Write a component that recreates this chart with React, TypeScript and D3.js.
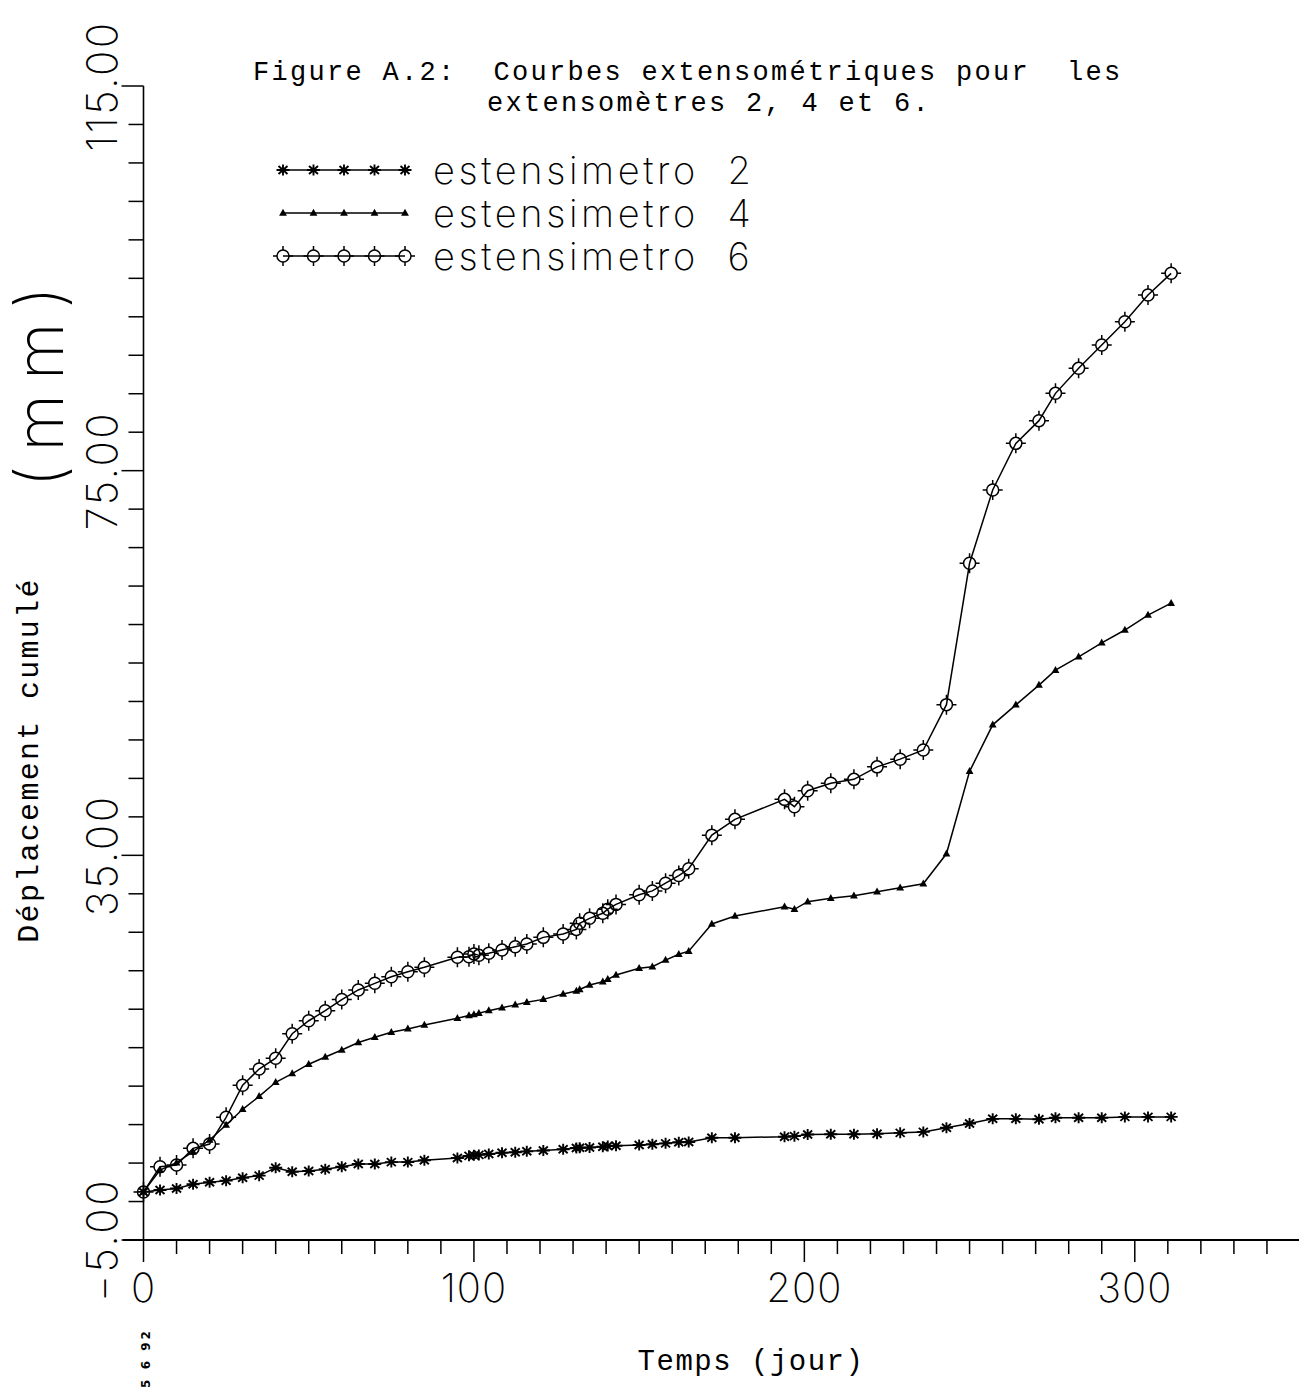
import React from "react";
import * as d3 from "d3";

// ---- data ----
const days = [0, 5, 10, 15, 20, 25, 30, 35, 40, 45, 50, 55, 60, 65, 70, 75, 80, 85, 95, 98.5,
  100, 101.5, 104.5, 108.5, 112.5, 116, 121, 127, 131, 132, 135, 139, 140.5, 143, 150, 154, 158, 162, 165, 172,
  179, 194, 197, 201, 208, 215, 222, 229, 236, 243, 250, 257, 264, 271, 276, 283, 290, 297, 304, 311];

const ext2 = [0, 0.2, 0.35, 0.8, 1.0, 1.17, 1.48, 1.69, 2.52, 2.1, 2.17, 2.35, 2.62, 2.9, 2.9, 3.1, 3.1, 3.3, 3.53, 3.75,
  3.8, 3.85, 3.94, 4.08, 4.12, 4.22, 4.3, 4.43, 4.57, 4.6, 4.62, 4.7, 4.77, 4.8, 4.88, 4.95, 5.05, 5.16, 5.19, 5.64,
  5.64, 5.74, 5.8, 5.97, 5.99, 6.0, 6.05, 6.14, 6.24, 6.68, 7.12, 7.6, 7.6, 7.55, 7.72, 7.72, 7.72, 7.8, 7.8, 7.8];

const ext4 = [0, 2.28, 3.04, 4.18, 5.4, 6.96, 8.59, 9.93, 11.4, 12.3, 13.28, 14.03, 14.76, 15.54, 16.08, 16.6, 16.95, 17.35, 18.05, 18.35,
  18.45, 18.57, 18.85, 19.15, 19.45, 19.72, 20.02, 20.58, 20.89, 21.05, 21.52, 21.86, 22.1, 22.56, 23.25, 23.42, 24.1, 24.72, 25.03, 27.86,
  28.69, 29.66, 29.39, 30.18, 30.53, 30.8, 31.21, 31.62, 32.05, 35.16, 43.73, 48.57, 50.65, 52.7, 54.25, 55.64, 57.1, 58.43, 59.98, 61.22];

const ext6 = [0, 2.62, 2.8, 4.53, 4.98, 7.76, 11.1, 12.78, 13.9, 16.45, 17.8, 18.84, 20.0, 21.0, 21.69, 22.38, 22.9, 23.36, 24.4, 24.46,
  24.75, 24.6, 24.81, 25.15, 25.5, 25.78, 26.47, 26.82, 27.3, 27.93, 28.45, 28.97, 29.4, 29.9, 30.9, 31.3, 32.1, 32.9, 33.6, 37.1,
  38.74, 40.82, 40.06, 41.72, 42.49, 42.9, 44.2, 45.0, 45.95, 50.67, 65.37, 72.99, 77.84, 80.2, 83.04, 85.64, 88.06, 90.49, 93.26, 95.52];

const seriesNames = ["estensimetro  2", "estensimetro  4", "estensimetro  6"];
const xTickLabels = ["0", "100", "200", "300"];
const yTickLabels = ["\u22125.00", "35.00", "75.00", "115.00"];
const yMajorValues = [-5, 35, 75, 115];
const xMajorValues = [0, 100, 200, 300];

const titleLine1 = "Figure A.2:  Courbes extensométriques pour  les";
const titleLine2 = "extensomètres 2, 4 et 6.";
const xAxisTitle = "Temps (jour)";
const yAxisTitle = "Déplacement cumulé";
const yUnit = "(mm)";
const stamp = "5 6 92";

const W = 1299;
const H = 1394;
const thin = "Inter, 'Open Sans', 'DejaVu Sans', sans-serif";
const mono = "'Liberation Mono', 'DejaVu Sans Mono', monospace";

function Asterisk({ cx, cy }: { cx: number; cy: number }) {
  return (
    <path
      d={`M${cx - 6.5},${cy}h13M${cx},${cy - 5.5}v11M${cx - 4.5},${cy - 4}l9,8M${cx - 4.5},${cy + 4}l9,-8`}
      stroke="#000"
      strokeWidth={1.9}
      fill="none"
    />
  );
}
function Tri({ cx, cy }: { cx: number; cy: number }) {
  return <path d={`M${cx},${cy - 4.3}L${cx + 3.9},${cy + 2.7}L${cx - 3.9},${cy + 2.7}Z`} fill="#000" />;
}
function Circ({ cx, cy }: { cx: number; cy: number }) {
  return (
    <g stroke="#000" strokeWidth={1.5} fill="none">
      <circle cx={cx} cy={cy} r={6} />
      <path d={`M${cx},${cy - 10}v4M${cx},${cy + 6}v4M${cx - 10},${cy}h4M${cx + 6},${cy}h4`} />
    </g>
  );
}
const markers = [Asterisk, Tri, Circ];

export default function App() {
  const x = d3.scaleLinear().domain([0, 350]).range([143.5, 1300]);
  const y = d3.scaleLinear().domain([-5, 115]).range([1240, 86]);
  const series = [ext2, ext4, ext6];
  const line = d3
    .line<[number, number]>()
    .x((d) => x(d[0]))
    .y((d) => y(d[1]));

  const xTicks = d3.range(0, 351, 10);
  const yTicks = d3.range(-5, 115.1, 4);

  const legendX0 = 283;
  const legendX1 = 405;
  const legendY = [170, 213, 256];

  return (
    <svg
      width={W}
      height={H}
      viewBox={`0 0 ${W} ${H}`}
      style={{ position: "absolute", left: 0, top: 0, background: "#fff" }}
    >
      <rect x={0} y={0} width={W} height={H} fill="#fff" />

      {/* axes */}
      <line x1={123} x2={W} y1={y(-5)} y2={y(-5)} stroke="#000" strokeWidth={2.2} />
      <line x1={x(0)} x2={x(0)} y1={y(115)} y2={y(-5)} stroke="#000" strokeWidth={1.6} />
      {xTicks.map((t) => (
        <line
          key={"xt" + t}
          x1={x(t)}
          x2={x(t)}
          y1={y(-5)}
          y2={y(-5) + (t % 100 === 0 ? 22 : 14)}
          stroke="#000"
          strokeWidth={1.5}
        />
      ))}
      {yTicks.map((t) => (
        <line
          key={"yt" + t}
          x1={x(0) - ((t + 5) % 40 === 0 ? 22 : 15)}
          x2={x(0)}
          y1={y(t)}
          y2={y(t)}
          stroke="#000"
          strokeWidth={1.5}
        />
      ))}
      {xMajorValues.map((v, i) => (
        <text
          key={"xl" + v}
          x={x(v)}
          y={1302}
          textAnchor="middle"
          fontFamily={thin}
          fontWeight={200}
          fontSize={40}
          letterSpacing={1}
          fill="#000"
        >
          {xTickLabels[i]}
        </text>
      ))}
      {yMajorValues.map((v, i) => (
        <text
          key={"yl" + v}
          transform={`translate(117,${y(v)}) rotate(-90)`}
          textAnchor="middle"
          fontFamily={thin}
          fontWeight={200}
          fontSize={42}
          letterSpacing={2.5}
          fill="#000"
        >
          {yTickLabels[i]}
        </text>
      ))}

      {/* axis titles */}
      <text
        transform="translate(63,380) rotate(-90)"
        textAnchor="middle"
        fontFamily={thin}
        fontWeight={200}
        fontSize={66}
        letterSpacing={14}
        fill="#000"
      >
        {yUnit}
      </text>
      <text
        transform="translate(38,760) rotate(-90)"
        textAnchor="middle"
        fontFamily={mono}
        fontSize={30}
        letterSpacing={2.3}
        fill="#000"
      >
        {yAxisTitle}
      </text>
      <text x={751} y={1370} textAnchor="middle" fontFamily={mono} fontSize={29} letterSpacing={1.5} fill="#000">
        {xAxisTitle}
      </text>
      <text
        transform="translate(150,1358) rotate(-90)"
        textAnchor="middle"
        fontFamily="'DejaVu Sans', sans-serif"
        fontWeight="bold"
        fontSize={12}
        letterSpacing={3}
        fill="#000"
      >
        {stamp}
      </text>

      {/* title */}
      <text x={253} y={80} fontFamily={mono} fontSize={27} letterSpacing={2.3} fill="#000" style={{ whiteSpace: "pre" }}>
        {titleLine1}
      </text>
      <text x={487} y={111} fontFamily={mono} fontSize={27} letterSpacing={2.3} fill="#000" style={{ whiteSpace: "pre" }}>
        {titleLine2}
      </text>

      {/* data */}
      {series.map((vals, si) => {
        const pts = days.map((d, i) => [d, vals[i]] as [number, number]);
        const M = markers[si];
        return (
          <g key={"s" + si}>
            <path d={line(pts) || ""} fill="none" stroke="#000" strokeWidth={1.5} />
            {pts.map((p, i) => (
              <M key={i} cx={x(p[0])} cy={y(p[1])} />
            ))}
          </g>
        );
      })}

      {/* legend */}
      {seriesNames.map((name, si) => {
        const M = markers[si];
        const ly = legendY[si];
        const xs = d3.range(5).map((k) => legendX0 + (k * (legendX1 - legendX0)) / 4);
        return (
          <g key={"lg" + si}>
            <line x1={legendX0} x2={legendX1} y1={ly} y2={ly} stroke="#000" strokeWidth={1.5} />
            {xs.map((xx, k) => (
              <M key={k} cx={xx} cy={ly} />
            ))}
            <text
              x={433}
              y={ly + 14}
              fontFamily={thin}
              fontWeight={200}
              fontSize={38}
              letterSpacing={3.6}
              fill="#000"
              style={{ whiteSpace: "pre" }}
            >
              {name}
            </text>
          </g>
        );
      })}
    </svg>
  );
}
